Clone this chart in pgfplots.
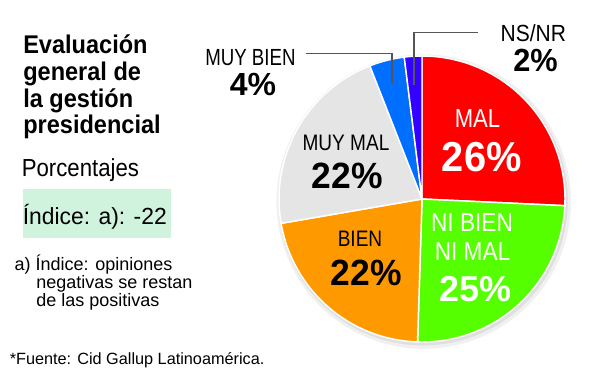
\documentclass[border=0pt]{standalone}
\usepackage{pgfplots}
\pgfplotsset{compat=1.18}
\usepackage{graphicx}
\usepackage{fontspec}
\setmainfont{Liberation Sans}
\definecolor{cMal}{RGB}{255,0,0}
\definecolor{cNi}{RGB}{85,255,0}
\definecolor{cBien}{RGB}{255,153,0}
\definecolor{cMuyMal}{RGB}{229,229,229}
\definecolor{cMuyBien}{RGB}{0,110,255}
\definecolor{cNs}{RGB}{51,0,255}
\definecolor{cBox}{RGB}{207,243,220}
\definecolor{cLead}{RGB}{85,85,85}
\newcommand\fs[2]{\fontsize{#1}{#2}\selectfont}
% data (percentages, clockwise from 12 o'clock)
\def\vMal{26}
\def\vNi{25}
\def\vBien{22}
\def\vMuyMal{22}
\def\vMuyBien{4}
\def\vNs{2}
\pgfmathsetmacro\tot{\vMal+\vNi+\vBien+\vMuyMal+\vMuyBien+\vNs}
\pgfmathsetmacro\aA{90}
\pgfmathsetmacro\aB{\aA-360*\vMal/\tot}
\pgfmathsetmacro\aC{\aB-360*\vNi/\tot}
\pgfmathsetmacro\aD{\aC-360*\vBien/\tot}
\pgfmathsetmacro\aE{\aD-360*\vMuyMal/\tot}
\pgfmathsetmacro\aF{\aE-360*\vMuyBien/\tot}
\pgfmathsetmacro\aG{\aF-360*\vNs/\tot}
\begin{document}
\begin{tikzpicture}[x=0.75pt,y=-0.75pt]
\path[fill=white] (0,0) rectangle (600,376);
\begin{axis}[at={(316.5pt,-149.25pt)}, anchor=center, scale only axis,
  width=214.5pt, height=214.5pt, xmin=-1, xmax=1, ymin=-1, ymax=1,
  hide axis, clip=false]
\addplot[fill=black, fill opacity=0.06, draw=none, domain=0:360, samples=120, variable=\t] ({1.03*cos(\t)+0.012},{1.03*sin(\t)-0.018});
\addplot[fill=black, fill opacity=0.07, draw=none, domain=0:360, samples=120, variable=\t] ({1.012*cos(\t)+0.008},{1.012*sin(\t)-0.012});
\addplot[fill=cMal, draw=white, line width=1.1pt, line join=round, domain=\aB:\aA, samples=60, variable=\t] ({cos(\t)},{sin(\t)}) -- (axis cs:0,0) -- cycle;
\addplot[fill=cNi, draw=white, line width=1.1pt, line join=round, domain=\aC:\aB, samples=60, variable=\t] ({cos(\t)},{sin(\t)}) -- (axis cs:0,0) -- cycle;
\addplot[fill=cBien, draw=white, line width=1.1pt, line join=round, domain=\aD:\aC, samples=60, variable=\t] ({cos(\t)},{sin(\t)}) -- (axis cs:0,0) -- cycle;
\addplot[fill=cMuyMal, draw=white, line width=1.1pt, line join=round, domain=\aE:\aD, samples=60, variable=\t] ({cos(\t)},{sin(\t)}) -- (axis cs:0,0) -- cycle;
\addplot[fill=cMuyBien, draw=white, line width=1.1pt, line join=round, domain=\aF:\aE, samples=20, variable=\t] ({cos(\t)},{sin(\t)}) -- (axis cs:0,0) -- cycle;
\addplot[fill=cNs, draw=white, line width=1.1pt, line join=round, domain=\aG:\aF, samples=12, variable=\t] ({cos(\t)},{sin(\t)}) -- (axis cs:0,0) -- cycle;
\end{axis}
% leader lines
\draw[cLead, line width=0.8pt] (478,32.3) -- (414,32.3) -- (414,85);
\draw[cLead, line width=0.8pt] (306,53.3) -- (392,53.3) -- (392,83);
% left texts
\node[anchor=base west,inner sep=0pt] at (23,53) {\fs{19.2}{20}\bfseries\scalebox{0.92}[1]{Evaluación}};
\node[anchor=base west,inner sep=0pt] at (23,80) {\fs{19.2}{20}\bfseries\scalebox{0.92}[1]{general de}};
\node[anchor=base west,inner sep=0pt] at (23,107) {\fs{19.2}{20}\bfseries\scalebox{0.92}[1]{la gestión}};
\node[anchor=base west,inner sep=0pt] at (23,133) {\fs{19.2}{20}\bfseries\scalebox{0.92}[1]{presidencial}};
\node[anchor=base west,inner sep=0pt] at (21.5,176) {\fs{18.5}{20}\scalebox{0.9}[1]{Porcentajes}};
\fill[cBox] (23,189) rectangle (171,238);
\node[anchor=base west,inner sep=0pt] at (22.5,224) {\fs{17.5}{20}\scalebox{0.98}[1]{Índice: a): -22}};
\node[anchor=base west,inner sep=0pt] at (14.3,270) {\fs{13.5}{15}a) Índice: opiniones};
\node[anchor=base west,inner sep=0pt] at (36,288) {\fs{13.5}{15}negativas se restan};
\node[anchor=base west,inner sep=0pt] at (36,306) {\fs{13.5}{15}de las positivas};
\node[anchor=base west,inner sep=0pt] at (9.5,364) {\fs{12.2}{14}*Fuente: Cid Gallup Latinoamérica.};
% pie labels
\node[anchor=base,inner sep=0pt,white] at (477.5,127) {\fs{19.5}{20}\scalebox{0.85}[1]{MAL}};
\node[anchor=base,inner sep=0pt,white] at (481.7,171.7) {\fs{31.4}{32}\bfseries\scalebox{0.95}[1]{26\%}};
\node[anchor=base,inner sep=0pt,white] at (472,231.7) {\fs{19.5}{20}\scalebox{0.87}[1]{NI BIEN}};
\node[anchor=base,inner sep=0pt,white] at (472.5,260) {\fs{19.5}{20}\scalebox{0.87}[1]{NI MAL}};
\node[anchor=base,inner sep=0pt,white] at (475.5,301.7) {\fs{27}{28}\bfseries\scalebox{1.0}[1]{25\%}};
\node[anchor=base,inner sep=0pt] at (360,246.7) {\fs{16.8}{18}\scalebox{0.85}[1]{BIEN}};
\node[anchor=base,inner sep=0pt] at (366.4,285) {\fs{27.4}{28}\bfseries\scalebox{0.97}[1]{22\%}};
\node[anchor=base,inner sep=0pt] at (346,150) {\fs{16.8}{18}\scalebox{0.85}[1]{MUY MAL}};
\node[anchor=base,inner sep=0pt] at (347.2,188) {\fs{27.4}{28}\bfseries\scalebox{0.97}[1]{22\%}};
\node[anchor=base,inner sep=0pt] at (250.4,65) {\fs{17.5}{18}\scalebox{0.8}[1]{MUY BIEN}};
\node[anchor=base,inner sep=0pt] at (252.9,95) {\fs{24}{26}\bfseries\scalebox{1.0}[1]{4\%}};
\node[anchor=base,inner sep=0pt] at (533.4,41.7) {\fs{17.5}{18}\scalebox{0.9}[1]{NS/NR}};
\node[anchor=base,inner sep=0pt] at (535.5,71.7) {\fs{24}{26}\bfseries\scalebox{0.96}[1]{2\%}};
\end{tikzpicture}
\end{document}
